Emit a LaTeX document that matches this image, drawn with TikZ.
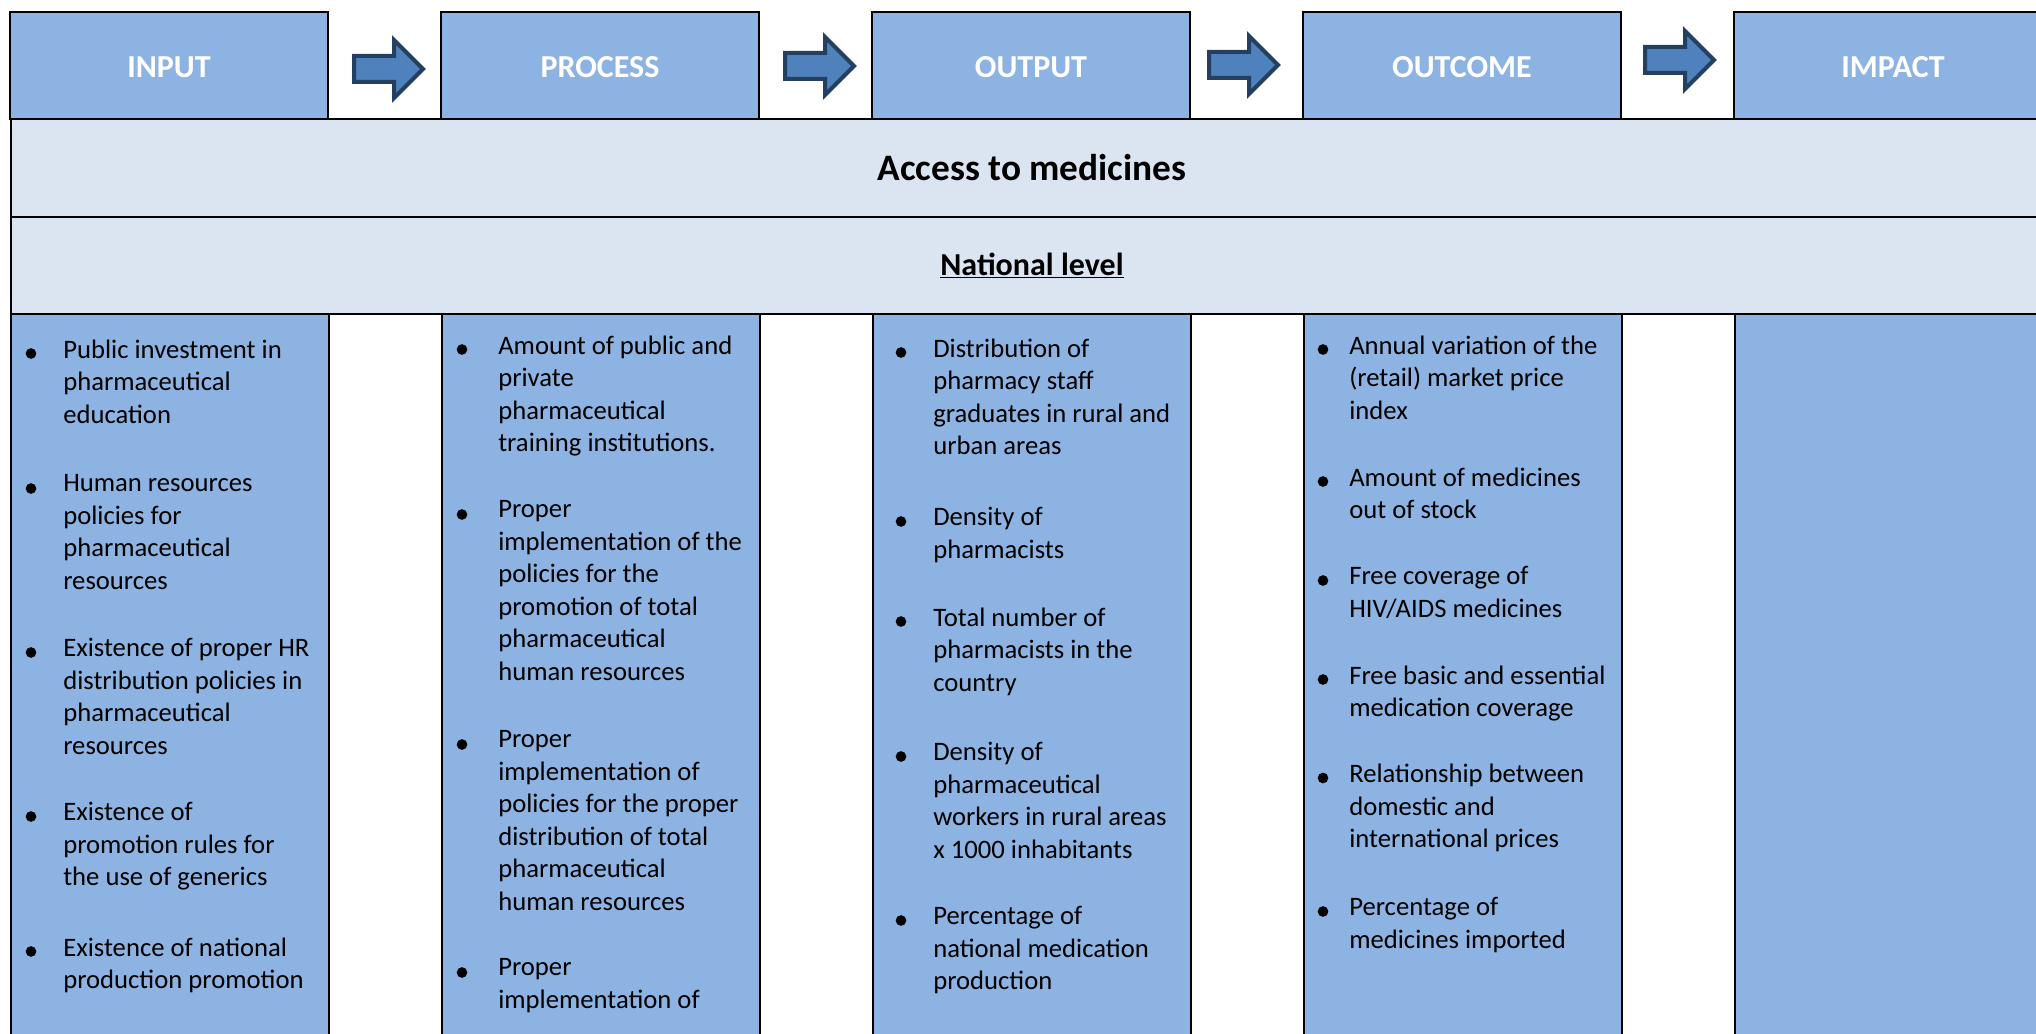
\documentclass[tikz,border=0pt]{standalone}
\usepackage{fontspec}
\setmainfont{Carlito}
\usepackage{tikz}
\usetikzlibrary{positioning}
\definecolor{colBlue}{RGB}{141, 179, 226}
\definecolor{rowBlue}{RGB}{219, 229, 241}
\definecolor{arrowFill}{RGB}{79, 129, 189}
\definecolor{arrowLine}{RGB}{36, 63, 96}

\tikzset{
    colbox/.style={draw=black, line width=1.5pt, fill=colBlue, anchor=north west,
        minimum width=238.5pt, minimum height=600pt, inner sep=0pt},
    headbox/.style={draw=black, line width=1.5pt, fill=colBlue, inner sep=0pt,
        minimum width=238.5pt, minimum height=79.7pt, text=white,
        text height=18.5pt, text depth=0pt,
        font=\fontsize{24}{29}\selectfont\bfseries},
    rowbox/.style={draw=black, line width=1.5pt, fill=rowBlue, anchor=north west,
        minimum width=1531.5pt, minimum height=73.3pt, inner sep=0pt},
    % first line starts with a strut: top of node = baseline - 17.08pt
    itemtext/.style={anchor=north west, inner sep=0pt, align=left,
        font=\fontsize{20}{24.4}\selectfont, execute at begin node=\strut},
    flowarrow/.style={draw=arrowLine, fill=arrowFill, line width=3pt}
}

\begin{document}
\begin{tikzpicture}[x=0.75pt, y=-0.75pt]
        \useasboundingbox (0,0) rectangle (2036,1034);
        \clip (0,0) rectangle (2036,1034);

        % Columns
        \node[colbox] (inputcol) at (10,313) {};
        \node[colbox] (processcol) at (441,313) {};
        \node[colbox] (outputcol) at (872,313) {};
        \node[colbox] (outcomecol) at (1303,313) {};
        \node[colbox] (impactcol) at (1734,313) {};

        % Header boxes
        \node[headbox] (input) at (169,65.5) {INPUT};
        \node[headbox] (process) at (600,65.5) {PROCESS};
        \node[headbox] (output) at (1031,65.5) {OUTPUT};
        \node[headbox] (outcome) at (1462,65.5) {OUTCOME};
        \node[headbox] (impact) at (1893,65.5) {IMPACT};

        % Rows across the table
        \node[rowbox] (access) at (10,118) {\fontsize{28}{34}\selectfont\bfseries Access to medicines};
        \node[rowbox] (national) at (10,215.7) {\fontsize{24}{29}\selectfont\bfseries\underline{National level}};

        % Block arrows between headers
        \foreach \ax/\ay in {352/69, 783/66, 1207/65, 1643/60}
            \draw[flowarrow] (\ax,\ay) ++(2,-13) -- ++(40,0) -- ++(0,-16) -- ++(29,29)
                -- ++(-29,29) -- ++(0,-16) -- ++(-40,0) -- cycle;

        % Input items
        \foreach \by/\txt [count=\i] in {
            362/{Public investment in\\pharmaceutical\\education},
            497/{Human resources\\policies for\\pharmaceutical\\resources},
            661/{Existence of proper HR\\distribution policies in\\pharmaceutical\\resources},
            825/{Existence of\\promotion rules for\\the use of generics},
            960/{Existence of national\\production promotion}} {
            \fill (31,\by-8.5) circle (4pt);
            \node[itemtext] (input\i) at (63,\by-22.77) {\txt};
        }

        % Process items
        \foreach \by/\txt [count=\i] in {
            358/{Amount of public and\\private\\pharmaceutical\\training institutions.},
            523/{Proper\\implementation of the\\policies for the\\promotion of total\\pharmaceutical\\human resources},
            753/{Proper\\implementation of\\policies for the proper\\distribution of total\\pharmaceutical\\human resources},
            981/{Proper\\implementation of}} {
            \fill (462,\by-8.5) circle (4pt);
            \node[itemtext] (process\i) at (498,\by-22.77) {\txt};
        }

        % Output items
        \foreach \by/\txt [count=\i] in {
            361/{Distribution of\\pharmacy staff\\graduates in rural and\\urban areas},
            530/{Density of\\pharmacists},
            630/{Total number of\\pharmacists in the\\country},
            765/{Density of\\pharmaceutical\\workers in rural areas\\x 1000 inhabitants},
            929/{Percentage of\\national medication\\production}} {
            \fill (901,\by-8.5) circle (4pt);
            \node[itemtext] (output\i) at (933,\by-22.77) {\txt};
        }

        % Outcome items
        \foreach \by/\txt [count=\i] in {
            358/{Annual variation of the\\(retail) market price\\index},
            490/{Amount of medicines\\out of stock},
            589/{Free coverage of\\HIV/AIDS medicines},
            688/{Free basic and essential\\medication coverage},
            786.5/{Relationship between\\domestic and\\international prices},
            920/{Percentage of\\medicines imported}} {
            \fill (1323,\by-8.5) circle (4pt);
            \node[itemtext] (outcome\i) at (1349,\by-22.77) {\txt};
        }
    \end{tikzpicture}
\end{document}
